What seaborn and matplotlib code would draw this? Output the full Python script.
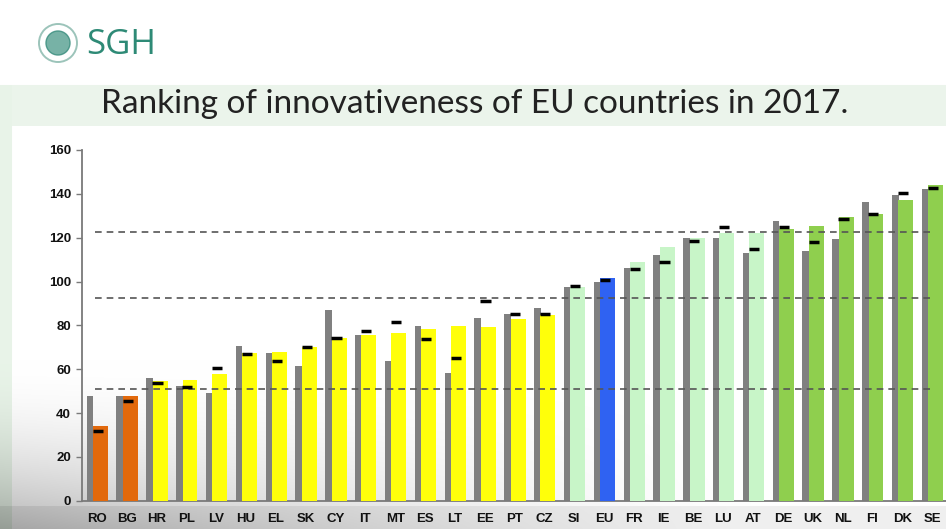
import numpy as np
import pandas as pd
import matplotlib
matplotlib.use("Agg")
import matplotlib.pyplot as plt
from matplotlib.patches import Circle
import seaborn as sns

# --- data -------------------------------------------------------------
countries = ["RO", "BG", "HR", "PL", "LV", "HU", "EL", "SK", "CY", "IT",
             "MT", "ES", "LT", "EE", "PT", "CZ", "SI", "EU", "FR", "IE",
             "BE", "LU", "AT", "DE", "UK", "NL", "FI", "DK", "SE"]

score_2017 = [34.0, 47.6, 54.4, 55.1, 57.8, 67.5, 67.9, 69.9, 74.4, 75.5,
              76.7, 78.2, 79.7, 79.4, 82.9, 84.7, 97.3, 101.7, 109.0, 115.6,
              119.7, 122.0, 122.0, 123.8, 125.3, 129.6, 130.8, 137.2, 144.0]

score_2010 = [47.6, 47.6, 55.9, 52.4, 49.1, 70.7, 67.5, 61.6, 87.1, 75.5,
              63.9, 79.9, 58.1, 83.5, 85.2, 88.0, 97.6, 100.0, 106.3, 112.1,
              119.7, 120.0, 112.9, 127.6, 113.9, 119.4, 136.3, 139.5, 142.0]

score_2016 = [31.7, 45.6, 53.9, 51.8, 60.7, 66.9, 63.6, 70.2, 74.3, 77.3,
              81.5, 73.9, 65.0, 91.1, 85.0, 85.2, 98.1, 100.7, 105.7, 108.8,
              118.3, 124.7, 114.7, 125.0, 118.2, 128.7, 130.9, 140.5, 142.8]

groups = (["modest"] * 2 + ["moderate"] * 14 + ["strong"]
          + ["eu"] + ["strong"] * 5 + ["leader"] * 6)

thresholds = [122.5, 92.3, 51.0]

group_colors = {"modest": "#E2690C", "moderate": "#FFFF0A",
                "strong": "#C8F5C8", "eu": "#2F62F2", "leader": "#8FCF4E"}
GRAY = "#808080"

df = pd.DataFrame({"country": countries, "y2010": score_2010,
                   "y2016": score_2016, "y2017": score_2017, "group": groups})
palette = {c: group_colors[g] for c, g in zip(countries, groups)}

# --- figure & background ----------------------------------------------
sns.set_theme(style="white")
plt.rcParams["font.family"] = ["Liberation Sans Narrow", "Liberation Sans", "DejaVu Sans"]

W, H = 946, 529
fig = plt.figure(figsize=(W / 100, H / 100), dpi=100)

yy, xx = np.mgrid[0:H, 0:W]
img = np.ones((H, W, 3))
img[(yy >= 85) & (yy < 126) & (xx >= 10)] = [0.925, 0.96, 0.925]
img[(yy >= 85) & (xx < 12)] = [0.91, 0.955, 0.91]
shade = (np.clip((yy - 360) / 170, 0, 1) ** 1.8
         * np.clip(1 - xx / 750, 0, 1) ** 1.3 * 0.30)
shade += np.where(yy >= 506, 0.06, 0.0)
img = img * (1 - shade[..., None])

bg = fig.add_axes([0, 0, 1, 1], zorder=-10)
bg.imshow(img, extent=[0, W, H, 0], aspect="auto", interpolation="bilinear")
bg.set_xlim(0, W)
bg.set_ylim(H, 0)
bg.axis("off")

# SGH emblem and name
bg.add_patch(Circle((58, 43), 19, fill=False, ec="#9cc4ba", lw=1.4))
bg.add_patch(Circle((58, 43), 12, fc="#5fa597", ec="#3d8f80", lw=1.0,
                    alpha=0.85))
bg.text(86, 45, "SGH", fontsize=25, color="#2e8a76", va="center", ha="left",
        family=["Open Sans", "DejaVu Sans"])

fig.text(0.502, 0.803, "Ranking of innovativeness of EU countries in 2017.",
         ha="center", va="center", fontsize=24, color="#222222",
         family=["Lato", "DejaVu Sans"])

# --- chart ------------------------------------------------------------
ax = fig.add_axes([82 / W, (H - 500.7) / H, 865 / W, 350.7 / H])
ax.patch.set_alpha(0)

# earlier score: narrow grey bar on the left of each group
n0 = len(ax.patches)
sns.barplot(data=df, x="country", y="y2010", color=GRAY, width=0.22,
            saturation=1, ax=ax, zorder=2)
for p in ax.patches[n0:]:
    p.set_x(p.get_x() - 0.235)
    p.set_edgecolor("none")

# current score: wide coloured bar
n1 = len(ax.patches)
sns.barplot(data=df, x="country", y="y2017", hue="country", palette=palette,
            width=0.5, saturation=1, legend=False, ax=ax, zorder=3)
for p in ax.patches[n1:]:
    p.set_x(p.get_x() + 0.12)
    p.set_edgecolor("none")

# previous-year score: short black marker
pos = np.arange(len(countries))
ax.hlines(df["y2016"], pos - 0.14, pos + 0.2, colors="black", lw=2.5,
          zorder=5)

# group thresholds
ax.hlines(thresholds, -0.05, len(countries) - 1.02, colors="#555555",
          linestyles=(0, (4, 3)), lw=1.2, zorder=4)

ax.set_xlim(-0.5, len(countries) - 0.5)
ax.set_ylim(0, 160)
ax.set_yticks(np.arange(0, 161, 20))
ax.set_xlabel("")
ax.set_ylabel("")
for s in ("top", "right"):
    ax.spines[s].set_visible(False)
for s in ("left", "bottom"):
    ax.spines[s].set_color("#7a7a7a")
    ax.spines[s].set_linewidth(1.3)

ax.set_xticks(pos + 0.5, minor=True)
ax.tick_params(axis="x", which="major", length=0, pad=9, labelsize=9.5,
               labelcolor="#111111")
ax.tick_params(axis="x", which="minor", length=4, width=1, color="#7a7a7a",
               direction="out")
ax.tick_params(axis="y", length=4, width=1, color="#7a7a7a", direction="out",
               pad=4, labelsize=9.5, labelcolor="#111111", left=True)
for lab in ax.get_xticklabels() + ax.get_yticklabels():
    lab.set_fontweight("bold")

fig.savefig("out.png", dpi=100)
